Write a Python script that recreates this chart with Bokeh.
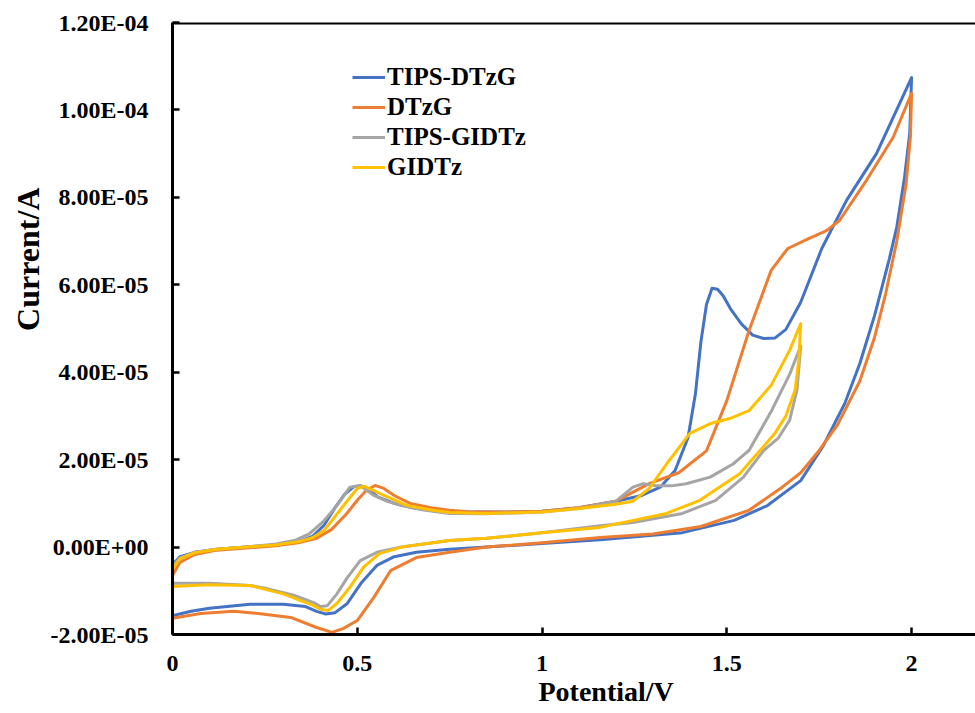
import numpy as np
from bokeh.plotting import figure
from bokeh.models import Range1d, FixedTicker, Span, Legend, LegendItem, Title
from bokeh.embed import file_html
from bokeh.resources import INLINE

# ---- data (current in units of 1e-5 A) ----
tips_dtzg_v = [0, 0.02, 0.06, 0.12, 0.2, 0.28, 0.34, 0.38, 0.41, 0.44, 0.465, 0.49, 0.51, 0.53, 0.555, 0.6, 0.65,
               0.72, 0.8, 0.9, 1.0, 1.1, 1.2, 1.27, 1.32, 1.36, 1.395, 1.415, 1.43, 1.445, 1.46, 1.475, 1.49, 1.51,
               1.54, 1.57, 1.6, 1.63, 1.66, 1.7, 1.757, 1.824, 1.905, 2.0,
               1.995, 1.981, 1.96, 1.94, 1.9, 1.86, 1.82, 1.76, 1.70, 1.61, 1.52, 1.38, 1.157, 1.0, 0.85, 0.75,
               0.66, 0.6, 0.553, 0.51, 0.473, 0.44, 0.415, 0.39, 0.36, 0.3, 0.21, 0.1, 0.05, 0.0]
tips_dtzg_i = [-0.4, -0.22, -0.12, -0.05, 0.0, 0.05, 0.12, 0.25, 0.5, 0.9, 1.2, 1.38, 1.4, 1.33, 1.15, 1.0, 0.9,
               0.82, 0.8, 0.8, 0.82, 0.9, 1.05, 1.18, 1.37, 1.75, 2.5, 3.5, 4.7, 5.55, 5.92, 5.9, 5.75, 5.45,
               5.1, 4.85, 4.77, 4.78, 4.98, 5.6, 6.83, 7.93, 9.0, 10.74,
               9.46, 8.46, 7.32, 6.6, 5.3, 4.2, 3.3, 2.3, 1.52, 0.95, 0.61, 0.33, 0.17, 0.08, 0.0, -0.05,
               -0.12, -0.22, -0.42, -0.83, -1.29, -1.5, -1.53, -1.47, -1.36, -1.31, -1.31, -1.4, -1.47, -1.57]

dtzg_v = [0, 0.02, 0.06, 0.12, 0.2, 0.28, 0.34, 0.39, 0.43, 0.47, 0.5, 0.525, 0.548, 0.57, 0.6, 0.643, 0.7, 0.75,
          0.8, 0.9, 1.0, 1.1, 1.2, 1.29, 1.37, 1.445, 1.5, 1.56, 1.62, 1.665, 1.72, 1.77, 1.805, 1.878, 1.95, 2.0,
          1.997, 1.985, 1.96, 1.93, 1.9, 1.86, 1.8, 1.75, 1.7, 1.65, 1.56, 1.43, 1.3, 1.157, 1.0, 0.85, 0.75,
          0.66, 0.59, 0.545, 0.5, 0.463, 0.432, 0.39, 0.32, 0.21, 0.166, 0.076, 0.0]
dtzg_i = [-0.65, -0.35, -0.17, -0.07, -0.02, 0.03, 0.1, 0.2, 0.4, 0.75, 1.07, 1.3, 1.41, 1.35, 1.18, 1.0, 0.9, 0.84,
          0.81, 0.8, 0.82, 0.9, 1.05, 1.45, 1.7, 2.2, 3.35, 4.95, 6.33, 6.83, 7.05, 7.24, 7.47, 8.39, 9.37, 10.38,
          9.4, 8.3, 7.0, 5.8, 4.8, 3.8, 2.8, 2.21, 1.7, 1.37, 0.84, 0.47, 0.3, 0.22, 0.1, 0.0, -0.12,
          -0.24, -0.54, -1.15, -1.68, -1.86, -1.95, -1.84, -1.61, -1.5, -1.47, -1.52, -1.63]

tips_gidtz_v = [0, 0.02, 0.06, 0.12, 0.2, 0.28, 0.33, 0.37, 0.41, 0.445, 0.48, 0.508, 0.545, 0.58, 0.62, 0.68, 0.75,
                0.85, 1.0, 1.1, 1.2, 1.246, 1.274, 1.31, 1.35, 1.39, 1.455, 1.517, 1.56, 1.62, 1.67, 1.7,
                1.69, 1.67, 1.64, 1.6, 1.545, 1.47, 1.38, 1.246, 1.157, 1.0, 0.85, 0.75, 0.62, 0.553, 0.508,
                0.473, 0.445, 0.419, 0.4, 0.382, 0.328, 0.256, 0.21, 0.1, 0.0]
tips_gidtz_i = [-0.45, -0.25, -0.12, -0.05, 0.0, 0.07, 0.15, 0.3, 0.6, 0.95, 1.37, 1.41, 1.18, 1.05, 0.95, 0.85, 0.77,
                0.76, 0.8, 0.88, 1.05, 1.37, 1.45, 1.4, 1.4, 1.45, 1.6, 1.9, 2.21, 3.1, 3.95, 4.6,
                3.6, 2.9, 2.5, 2.21, 1.6, 1.07, 0.77, 0.56, 0.49, 0.33, 0.2, 0.15, 0.0, -0.12, -0.31,
                -0.7, -1.07, -1.34, -1.36, -1.27, -1.1, -0.95, -0.88, -0.83, -0.83]

gidtz_v = [0, 0.02, 0.06, 0.12, 0.2, 0.28, 0.34, 0.38, 0.41, 0.44, 0.463, 0.5, 0.52, 0.56, 0.6, 0.635, 0.7, 0.75,
           0.85, 1.0, 1.1, 1.2, 1.246, 1.29, 1.337, 1.364, 1.4, 1.454, 1.508, 1.56, 1.62, 1.67, 1.7,
           1.695, 1.685, 1.66, 1.63, 1.59, 1.535, 1.427, 1.337, 1.157, 1.0, 0.85, 0.75, 0.62, 0.56, 0.517,
           0.48, 0.445, 0.422, 0.4, 0.382, 0.3, 0.21, 0.1, 0.0]
gidtz_i = [-0.5, -0.27, -0.13, -0.05, 0.0, 0.05, 0.12, 0.22, 0.38, 0.7, 0.95, 1.34, 1.39, 1.23, 1.08, 0.95, 0.85, 0.79,
           0.77, 0.8, 0.88, 0.98, 1.05, 1.34, 1.9, 2.2, 2.6, 2.82, 2.94, 3.12, 3.7, 4.5, 5.11,
           4.3, 3.6, 3.0, 2.6, 2.21, 1.68, 1.07, 0.77, 0.45, 0.33, 0.2, 0.15, 0.0, -0.15, -0.46,
           -0.92, -1.29, -1.45, -1.42, -1.34, -1.07, -0.88, -0.86, -0.9]

series_names = ["TIPS-DTzG", "DTzG", "TIPS-GIDTz", "GIDTz"]
series_colors = ["#4472C4", "#ED7D31", "#A5A5A5", "#FFC000"]

y_ticks = [-2e-5, 0.0, 2e-5, 4e-5, 6e-5, 8e-5, 1e-4, 1.2e-4]
y_tick_labels = ["-2.00E-05", "0.00E+00", "2.00E-05", "4.00E-05", "6.00E-05", "8.00E-05", "1.00E-04", "1.20E-04"]
x_ticks = [0, 0.5, 1, 1.5, 2]
x_tick_labels = ["0", "0.5", "1", "1.5", "2"]

FONT = "Liberation Serif"

p = figure(width=975, height=713, x_range=Range1d(0, 2.173), y_range=Range1d(-2e-5, 1.2e-4),
           output_backend="svg", toolbar_location=None,
           min_border_left=172, min_border_right=0, min_border_top=22, min_border_bottom=79)
p.outline_line_color = None
p.grid.visible = False
p.background_fill_color = "white"
p.border_fill_color = "white"

for ax in (p.xaxis[0], p.yaxis[0]):
    ax.axis_line_width = 3
    ax.axis_line_color = "black"
    ax.major_tick_line_width = 2.5
    ax.major_tick_in = 7
    ax.major_tick_out = 0
    ax.minor_tick_line_color = None
    ax.major_label_text_font = FONT
    ax.major_label_text_font_style = "bold"
    ax.major_label_text_font_size = "24px"
    ax.major_label_text_color = "black"

p.yaxis.ticker = FixedTicker(ticks=y_ticks)
p.yaxis.major_label_overrides = {t: l for t, l in zip(y_ticks, y_tick_labels)}
p.yaxis.major_label_standoff = 24
p.xaxis.ticker = FixedTicker(ticks=x_ticks)
p.xaxis.major_label_standoff = 21
p.xaxis.major_label_overrides = {t: l for t, l in zip(x_ticks, x_tick_labels)}

p.add_layout(Span(location=1.2e-4, dimension="width", line_color="black", line_width=4))

data = [(tips_dtzg_v, tips_dtzg_i), (dtzg_v, dtzg_i), (tips_gidtz_v, tips_gidtz_i), (gidtz_v, gidtz_i)]
items = []
for (v, i), name, col in zip(data, series_names, series_colors):
    r = p.line(v, np.array(i) * 1e-5, line_color=col, line_width=3, line_join="round")
    items.append(LegendItem(label=name, renderers=[r]))

legend = Legend(items=items, location=(180, 452), glyph_width=33, glyph_height=30, label_height=30,
                spacing=0, padding=0, margin=0, label_standoff=2,
                label_text_font=FONT, label_text_font_style="bold", label_text_font_size="25px",
                label_text_color="black", border_line_alpha=0, background_fill_alpha=0)
p.add_layout(legend)

xt = Title(text="Potential/V", align="left", offset=366, text_font=FONT, text_font_style="bold",
           text_font_size="28px", text_color="black", standoff=0)
p.add_layout(xt, "below")
yt = Title(text="Current/A", align="right", offset=165, text_font=FONT, text_font_style="bold",
           text_font_size="32px", text_color="black", standoff=4)
p.add_layout(yt, "left")

open("out.html", "w").write(file_html(p, INLINE))
